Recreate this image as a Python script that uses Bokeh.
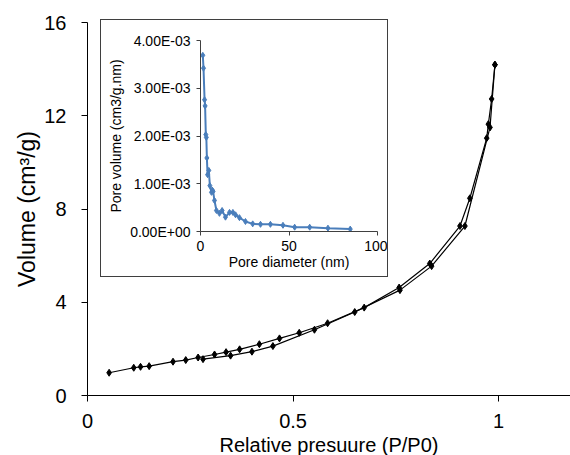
from bokeh.plotting import figure
from bokeh.layouts import column
from bokeh.models import FixedTicker, Range1d
from bokeh.embed import file_html
from bokeh.resources import INLINE

# ---------------- main isotherm data ----------------
ads_p = [0.281, 0.348, 0.400, 0.451, 0.552, 0.650, 0.760, 0.837, 0.918, 0.979, 0.991]
ads_v = [1.56, 1.71, 1.88, 2.12, 2.82, 3.58, 4.52, 5.55, 7.27, 11.50, 14.19]

des_p = [0.991, 0.983, 0.975, 0.971, 0.930, 0.906, 0.8325, 0.758, 0.673, 0.584,
         0.515, 0.467, 0.418, 0.370, 0.337, 0.309, 0.269, 0.239, 0.208, 0.150,
         0.129, 0.1125, 0.0526]
des_v = [14.19, 12.72, 11.64, 11.04, 8.46, 7.27, 5.66, 4.63, 3.77, 3.10,
         2.69, 2.45, 2.20, 1.98, 1.86, 1.76, 1.63, 1.52, 1.45, 1.26,
         1.23, 1.19, 0.976]

x_ticks = [0, 0.5, 1]
x_tick_labels = ["0", "0.5", "1"]
y_ticks = [0, 4, 8, 12, 16]
y_tick_labels = ["0", "4", "8", "12", "16"]

# ---------------- inset pore size distribution ----------------
pore_d = [1.3, 1.7, 2.3, 2.6, 3.0, 3.3, 3.6, 4.0, 4.7, 5.3, 6.2, 6.6, 7.1, 7.9, 9.0,
          10.7, 12.2, 14.1, 16.4, 18.3, 19.8, 22.0, 25.4, 29.5, 33.9, 39.5, 46.6,
          53.2, 61.7, 72.0, 84.6]
pore_v = [3.69e-3, 3.42e-3, 2.76e-3, 2.63e-3, 2.03e-3, 1.97e-3, 1.54e-3, 1.19e-3,
          1.28e-3, 0.96e-3, 0.82e-3, 0.87e-3, 0.84e-3, 0.65e-3, 0.44e-3, 0.38e-3,
          0.44e-3, 0.30e-3, 0.40e-3, 0.40e-3, 0.35e-3, 0.29e-3, 0.21e-3, 0.16e-3,
          0.15e-3, 0.15e-3, 0.13e-3, 0.09e-3, 0.09e-3, 0.07e-3, 0.05e-3]

inset_x_ticks = [0, 50, 100]
inset_x_labels = ["0", "50", "100"]
inset_y_ticks = [0, 0.001, 0.002, 0.003, 0.004]
inset_y_labels = ["0.00E+00", "1.00E-03", "2.00E-03", "3.00E-03", "4.00E-03"]

FONT = "Liberation Sans"

# ---------------- main figure ----------------
p = figure(width=594, frame_height=373, output_backend="svg",
           toolbar_location=None,
           x_range=Range1d(0, 1.1748), y_range=Range1d(0, 16),
           min_border_left=74, min_border_right=0, min_border_top=22, min_border_bottom=60)
p.grid.visible = False
p.outline_line_color = None
p.background_fill_color = "white"
p.border_fill_color = "white"
# the layout adds a 12px strip on the left of the canvas; pull it out of view
p.styles = {"position": "relative", "left": "-12px"}

p.line(ads_p, ads_v, line_color="black", line_width=1.2)
p.scatter(ads_p, ads_v, marker="diamond", size=7, color="black")
p.line(des_p, des_v, line_color="black", line_width=1.2)
p.scatter(des_p, des_v, marker="diamond", size=7, color="black")

p.xaxis.ticker = FixedTicker(ticks=x_ticks)
p.xaxis.major_label_overrides = dict(zip(x_ticks, x_tick_labels))
p.yaxis.ticker = FixedTicker(ticks=y_ticks)
p.yaxis.major_label_overrides = dict(zip(y_ticks, y_tick_labels))
p.xaxis.axis_label = "Relative presuure (P/P0)"
p.yaxis.axis_label = "Volume (cm³/g)"

for ax in (p.xaxis, p.yaxis):
    ax.axis_line_color = "black"
    ax.axis_line_width = 1
    ax.major_tick_line_color = "black"
    ax.major_tick_out = 6
    ax.major_tick_in = 0
    ax.minor_tick_line_color = None
    ax.major_label_text_font = FONT
    ax.major_label_text_font_size = "20px"
    ax.major_label_text_color = "black"
    ax.axis_label_text_font = FONT
    ax.axis_label_text_font_style = "normal"
    ax.axis_label_text_color = "black"

p.xaxis.major_label_standoff = 12
p.xaxis.axis_label_standoff = 3
p.xaxis.axis_label_text_font_size = "20px"
p.yaxis.major_label_standoff = 15
p.yaxis.axis_label_standoff = 1
p.yaxis.axis_label_text_font_size = "23px"

# ---------------- inset figure ----------------
q = figure(width=288, height=258, output_backend="svg", toolbar_location=None,
           x_range=Range1d(0, 100), y_range=Range1d(0, 0.004),
           min_border_left=99, min_border_right=12, min_border_top=20, min_border_bottom=47)
q.grid.visible = False
q.outline_line_color = None
q.background_fill_color = "white"
q.border_fill_color = "white"
q.styles = {"position": "absolute", "left": "100px", "top": "19px",
            "border": "1px solid #3f3f3f", "z-index": "10"}

blue = "#4a7ebb"
q.line(pore_d, pore_v, line_color=blue, line_width=2)
q.scatter(pore_d, pore_v, marker="diamond", size=6, color=blue)

q.xaxis.ticker = FixedTicker(ticks=inset_x_ticks)
q.xaxis.major_label_overrides = dict(zip(inset_x_ticks, inset_x_labels))
q.yaxis.ticker = FixedTicker(ticks=inset_y_ticks)
q.yaxis.major_label_overrides = dict(zip(inset_y_ticks, inset_y_labels))
q.xaxis.axis_label = "Pore diameter (nm)"
q.yaxis.axis_label = "Pore volume (cm3/g.nm)"

for ax in (q.xaxis, q.yaxis):
    ax.axis_line_color = "#404040"
    ax.axis_line_width = 1
    ax.major_tick_line_color = "#404040"
    ax.major_tick_out = 4
    ax.major_tick_in = 0
    ax.minor_tick_line_color = None
    ax.major_label_text_font = FONT
    ax.major_label_text_font_size = "14px"
    ax.major_label_text_color = "black"
    ax.axis_label_text_font = FONT
    ax.axis_label_text_font_size = "14px"
    ax.axis_label_text_font_style = "normal"
    ax.axis_label_text_color = "black"

q.xaxis.major_label_standoff = 5
q.xaxis.axis_label_standoff = 0
q.yaxis.major_label_standoff = 6
q.yaxis.axis_label_standoff = 3

layout = column(p, q)
open("out.html", "w").write(file_html(layout, INLINE))
